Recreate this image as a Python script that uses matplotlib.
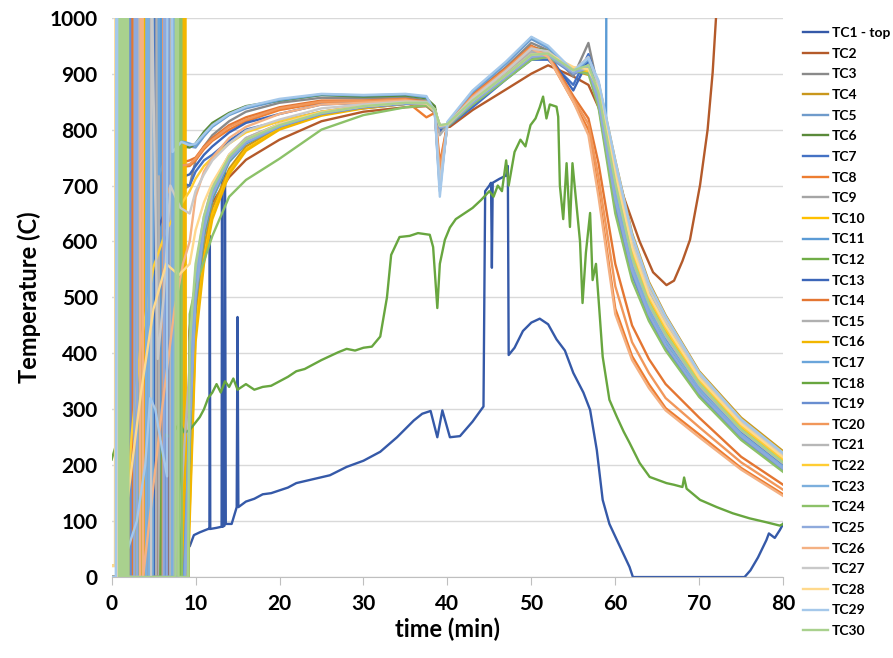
import matplotlib
matplotlib.use("Agg")
import matplotlib.pyplot as plt

plt.rcParams['font.family'] = ['Lato', 'DejaVu Sans']
plt.rcParams['font.weight'] = 'bold'

# common time grid for the main part of most traces (min)
t_main = [9.3, 10, 11, 12, 14, 16, 20, 25, 30, 35, 37.5, 38.5, 39.1, 40, 43, 47,
          50, 52, 55, 56.8, 58, 60, 62, 64, 66, 70, 75, 80]

# TC1 - top
tc1_t = [0, 1.7, 1.75, 2.0, 2.05, 5.4, 5.45, 5.7, 5.75, 6.2, 6.25, 6.5, 6.55, 8.9,
         9.1, 9.3, 9.8, 10.5, 11.5, 11.65, 11.7, 11.75, 12.5, 13.1, 13.15, 13.25,
         13.45, 13.5, 13.6, 14.3, 14.9, 15.0, 15.1, 16, 17, 18, 19, 20, 21, 22, 24,
         26, 28, 30, 32, 34, 36, 37, 38, 38.8, 39.4, 40.3, 41.5, 43, 44.3, 44.5,
         45.0, 45.2, 45.3, 45.4, 46.2, 47.0, 47.2, 47.3, 48, 49, 50, 51, 52, 53, 54,
         55, 56.2, 57, 57.8, 58.5, 59.3, 60.2, 61.7, 62.1, 75.4, 76.1, 77, 78, 78.3,
         79, 79.6, 80]
tc1_v = [0, 0, 1100, 1100, 0, 0, 1100, 1100, 0, 0, 1100, 1100, 0, 0,
         70, 55, 75, 80, 86, 86, 610, 86, 88, 90, 720, 90,
         92, 730, 95, 95, 125, 465, 125, 135, 140, 148, 150, 155, 160, 168, 175,
         182, 197, 208, 224, 250, 280, 292, 297, 250, 298, 250, 252, 278, 305, 690,
         700, 705, 553, 705, 712, 718, 735, 397, 410, 440, 455, 462, 452, 425, 405,
         365, 330, 299, 227, 138, 95, 66, 18, 0, 0, 12, 35, 66, 78,
         70, 84, 95]

# TC2
tc2_t = [0, 3.3, 3.35, 3.6, 3.65, 6.8, 6.85, 7.0, 7.05, 9.1, 9.2, 9.25, 10, 11, 12,
         14, 16, 20, 25, 30, 35, 37.5, 38.5, 39.2, 40.3, 43, 47, 50, 52, 55, 56.8,
         58, 59.5, 61, 62.9, 64.5, 66.1, 67, 68, 68.9, 70.1, 71, 71.6, 72, 72.3, 80]
tc2_v = [0, 0, 1100, 1100, 0, 0, 1100, 1100, 0, 0, 210, 440, 530, 610, 670,
         715, 746, 782, 815, 832, 840, 842, 830, 805, 805, 835, 872, 900, 915, 895, 880,
         840, 760, 680, 600, 545, 522, 530, 565, 603, 701, 800, 902, 1000, 1100, 1100]

# TC3
tc3_et = [0, 2.4, 2.45, 2.7, 2.75, 6.0, 6.05, 7.3, 7.35, 8.2]
tc3_ev = [0, 0, 1100, 1100, 0, 0, 1100, 1100, 640, 690]
tc3 = [700, 745, 770, 790, 815, 832, 848, 857, 856, 858, 852, 835, 700, 808, 862, 912,
       955, 942, 895, 955, 870, 700, 575, 495, 440, 350, 270, 210]

# TC4
tc4_et = [0, 1.3, 1.35, 1.5, 1.55, 4.6, 4.65, 5.0, 5.05, 8.4, 8.45, 8.7, 8.75, 9.1]
tc4_ev = [20, 20, 1100, 1100, 0, 0, 1100, 1100, 0, 0, 1100, 1100, 0, 0]
tc4 = [160, 470, 590, 660, 730, 770, 805, 828, 840, 846, 845, 832, 800, 805, 845, 892,
       928, 930, 905, 898, 885, 745, 615, 528, 468, 368, 285, 225]

# TC5
tc5_et = [0, 0.6, 0.65, 3.9, 3.95, 4.3, 4.35, 6.9, 6.95, 7.3, 8.1]
tc5_ev = [0, 0, 1100, 1100, 0, 0, 1100, 1100, 700, 760, 775]
tc5 = [770, 768, 788, 805, 826, 838, 852, 862, 860, 862, 858, 832, 705, 812, 866, 918,
       962, 946, 900, 920, 875, 720, 590, 505, 448, 355, 272, 212]

# TC6
tc6_et = [0, 2.0, 2.05, 4.0, 4.05, 4.2, 4.25, 7.5, 7.55, 7.8, 8.4]
tc6_ev = [0, 0, 1100, 1100, 660, 690, 1100, 1100, 760, 792, 770]
tc6 = [768, 775, 796, 812, 830, 842, 852, 862, 859, 861, 856, 842, 795, 806, 852, 905,
       948, 940, 905, 912, 850, 680, 555, 478, 420, 335, 255, 195]

# TC7
tc7_et = [0, 2.9, 2.95, 3.2, 3.25, 6.4, 6.45, 6.7, 6.75, 8.1]
tc7_ev = [0, 0, 1100, 1100, 0, 0, 1100, 1100, 660, 705]
tc7 = [700, 725, 745, 755, 780, 800, 815, 832, 838, 846, 848, 830, 795, 805, 840, 890,
       925, 925, 880, 935, 880, 690, 560, 480, 425, 338, 258, 198]

# TC8
tc8_et = [0, 3.6, 3.65, 3.9, 3.95, 5.6, 5.65, 5.9, 5.95, 8.1]
tc8_ev = [0, 0, 1100, 1100, 0, 0, 1100, 1100, 690, 733]
tc8 = [735, 745, 765, 780, 800, 815, 835, 848, 850, 852, 822, 830, 720, 810, 860, 905,
       945, 930, 850, 800, 690, 480, 395, 345, 302, 255, 195, 148]

# TC9
tc9_et = [0, 4.4, 4.45, 4.7, 4.75, 7.7, 7.75, 8.0, 8.05, 8.6]
tc9_ev = [0, 0, 1100, 1100, 0, 0, 1100, 1100, 0, 0]
tc9 = [300, 520, 630, 690, 750, 780, 808, 830, 842, 848, 848, 835, 805, 808, 850, 898,
       935, 935, 900, 910, 860, 700, 570, 490, 435, 345, 265, 207]

# TC10
tc10_et = [0, 2.6, 2.65, 2.9, 2.95, 8.2, 8.25, 8.5, 8.55, 8.9]
tc10_ev = [0, 0, 1100, 1100, 0, 0, 1100, 1100, 0, 0]
tc10 = [120, 440, 570, 650, 725, 765, 802, 826, 840, 847, 846, 835, 805, 808, 848, 895,
        930, 935, 910, 900, 880, 740, 605, 520, 462, 365, 282, 222]

# TC11 (runs off scale at 59 min)
tc11_t = [0, 5.8, 5.85, 6.1, 6.15, 8.6] + t_main[:21] + [58.9, 59.0, 80]
tc11_v = [0, 0, 1100, 1100, 0, 0,
          200, 490, 610, 675, 742, 775, 805, 828, 841, 847, 847, 834, 800, 807, 850,
          896, 932, 935, 905, 910, 850, 790, 1500, 1500]

# TC12
tc12_et = [0, 3.1, 3.15, 3.4, 3.45, 7.9, 7.95, 8.2, 8.25, 8.7]
tc12_ev = [0, 0, 1100, 1100, 0, 0, 1100, 1100, 0, 0]
tc12 = [250, 500, 615, 680, 745, 778, 807, 829, 841, 847, 847, 834, 802, 806, 848, 893,
        928, 932, 905, 905, 850, 670, 545, 470, 412, 328, 250, 192]

# TC13
tc13_et = [0, 1.1, 1.15, 1.4, 1.45, 5.1, 5.15, 5.4, 5.45, 7.6, 8.3]
tc13_ev = [0, 0, 1100, 1100, 0, 0, 1100, 1100, 620, 700, 715]
tc13 = [720, 735, 755, 770, 795, 812, 828, 845, 848, 852, 850, 832, 798, 806, 850, 900,
        940, 935, 870, 925, 885, 700, 568, 485, 428, 340, 260, 200]

# TC14
tc14_et = [0, 2.2, 2.25, 2.5, 2.55, 7.0, 7.05, 7.3, 7.35, 8.1]
tc14_ev = [0, 0, 1100, 1100, 0, 0, 1100, 1100, 700, 740]
tc14 = [745, 750, 770, 785, 808, 822, 840, 852, 852, 855, 850, 835, 740, 810, 862, 910,
        950, 935, 860, 820, 740, 560, 450, 390, 345, 285, 215, 165]

# TC15
tc15_et = [0, 5.3, 5.35, 5.6, 5.65, 7.4, 7.45, 7.7, 7.75, 8.5]
tc15_ev = [0, 0, 1100, 1100, 0, 0, 1100, 1100, 0, 200]
tc15 = [350, 540, 640, 700, 755, 785, 810, 832, 843, 849, 848, 836, 790, 809, 853, 900,
        940, 938, 902, 915, 865, 705, 578, 495, 440, 350, 268, 208]

# TC16
tc16_et = [0, 3.7, 3.75, 4.0, 4.05, 8.5, 8.55, 8.8, 8.85, 9.1]
tc16_ev = [0, 0, 1100, 1100, 0, 0, 1100, 1100, 0, 0]
tc16 = [100, 420, 560, 640, 720, 762, 800, 825, 838, 846, 846, 834, 803, 806, 846, 893,
        928, 932, 908, 902, 870, 710, 578, 498, 440, 350, 268, 208]

# TC17
tc17_et = [0, 0.7, 0.75, 1.0, 1.05, 4.9, 4.95, 5.6, 5.65, 7.0, 8.2]
tc17_ev = [0, 0, 1100, 1100, 0, 0, 1100, 1100, 720, 770, 780]
tc17 = [775, 772, 790, 806, 827, 840, 853, 863, 861, 863, 858, 830, 690, 812, 868, 920,
        965, 948, 902, 925, 878, 728, 598, 512, 455, 360, 276, 216]

# TC18
tc18_t = [0, 0.3, 0.5, 0.55, 0.9, 0.95, 3.0, 3.05, 3.3, 3.35, 5.8, 6.0, 6.5, 7, 7.5,
          8.1, 8.7, 9.3, 10.5, 11, 11.5, 12, 12.5, 13, 13.5, 14, 14.5, 15, 16, 17, 18,
          19, 20, 21, 22, 23, 24, 25, 26, 27, 28, 29, 30, 31, 32, 32.8, 33.3, 34.3,
          35.5, 36.5, 37.9, 38.3, 38.8, 39.1, 39.7, 40.3, 41, 42, 43, 44, 45, 45.5, 46,
          46.5, 47, 47.3, 48, 48.7, 49.3, 49.9, 50.5, 51, 51.4, 51.8, 52.2, 53.0, 53.2,
          53.4, 53.8, 54.2, 54.6, 54.9, 55.4, 55.8, 56.1, 56.5, 57.0, 57.3, 57.7, 58.1,
          58.5, 59.3, 60.2, 61, 61.7, 62.9, 64.1, 66.1, 67, 68, 68.2, 68.5, 70.1, 72.1,
          74, 76, 78, 79.6, 80]
tc18_v = [210, 225, 235, 1100, 1100, 0, 0, 1100, 1100, 0, 0, 245, 255, 250, 262,
          275, 258, 263, 286, 300, 320, 330, 345, 330, 350, 340, 355, 335, 345, 335, 340,
          342, 350, 358, 368, 372, 380, 388, 395, 402, 408, 405, 410, 412, 430, 500, 576, 608,
          610, 615, 612, 590, 481, 560, 603, 625, 640, 650, 660, 674, 690, 680, 700,
          690, 745, 700, 760, 782, 770, 808, 820, 840, 859, 820, 845, 841, 823,
          700, 640, 740, 626, 740, 662, 600, 490, 580, 651, 531, 560, 478,
          394, 317, 286, 260, 240, 204, 179, 168, 165, 161, 178, 158, 138, 125,
          114, 105, 98, 92, 95]

# TC19
tc19_et = [0, 1.9, 1.95, 2.2, 2.25, 6.6, 6.65, 6.9, 6.95, 8.6]
tc19_ev = [0, 0, 1100, 1100, 0, 0, 1100, 1100, 0, 0]
tc19 = [280, 510, 625, 685, 748, 778, 806, 828, 840, 846, 846, 834, 803, 806, 846, 892,
        926, 930, 900, 910, 845, 660, 540, 465, 410, 325, 248, 190]

# TC20
tc20_et = [0, 1.0, 1.05, 1.3, 1.35, 6.1, 6.15, 6.4, 6.45, 8.0]
tc20_ev = [0, 0, 1100, 1100, 0, 0, 1100, 1100, 680, 735]
tc20 = [738, 748, 768, 782, 805, 818, 838, 850, 851, 854, 848, 832, 730, 810, 860, 908,
        948, 932, 855, 810, 715, 520, 420, 365, 320, 268, 205, 156]

# TC21
tc21_et = [0, 3.0, 3.05, 3.3, 3.35, 7.0, 7.05, 7.3, 7.35, 8.3]
tc21_ev = [0, 0, 1100, 1100, 0, 0, 1100, 1100, 0, 150]
tc21 = [380, 550, 645, 700, 755, 785, 810, 832, 843, 849, 848, 836, 808, 809, 852, 898,
        936, 936, 902, 912, 862, 695, 565, 485, 430, 342, 262, 203]

# TC22
tc22_et = [0, 0.9, 0.95, 1.2, 1.25, 2.4, 3.5, 5.0, 6.5, 8.0]
tc22_ev = [20, 20, 1100, 1100, 0, 257, 420, 555, 620, 660]
tc22 = [690, 712, 735, 750, 775, 795, 815, 832, 842, 848, 847, 835, 806, 808, 850, 896,
        932, 935, 910, 905, 868, 712, 582, 500, 444, 352, 270, 210]

# TC23
tc23_et = [0, 4.1, 4.15, 4.4, 4.45, 7.2, 7.25, 7.5, 7.55, 8.7]
tc23_ev = [0, 0, 1100, 1100, 0, 0, 1100, 1100, 0, 0]
tc23 = [320, 520, 630, 688, 750, 780, 807, 830, 842, 848, 848, 835, 806, 808, 850, 896,
        932, 935, 903, 912, 855, 685, 555, 478, 422, 336, 256, 197]

# TC24
tc24_et = [0, 1.6, 1.65, 1.9, 1.95, 8.0, 8.05, 8.3, 8.35, 9.15]
tc24_ev = [0, 0, 1100, 1100, 0, 0, 1100, 1100, 0, 0]
tc24 = [470, 520, 565, 610, 680, 710, 748, 800, 826, 840, 843, 832, 805, 806, 845, 890,
        925, 930, 905, 900, 840, 650, 530, 458, 405, 322, 245, 188]

# TC25
tc25_et = [0, 2.7, 2.75, 3.0, 3.05, 6.2, 6.25, 6.5, 6.55, 8.8]
tc25_ev = [0, 0, 1100, 1100, 0, 0, 1100, 1100, 0, 0]
tc25 = [260, 500, 620, 682, 746, 777, 806, 829, 841, 847, 847, 835, 804, 807, 848, 894,
        930, 933, 902, 910, 850, 675, 548, 470, 415, 330, 252, 194]

# TC26
tc26_et = [0, 0.9, 0.95, 1.2, 1.25, 3.4, 3.45, 3.7, 3.75, 6.0, 7.5, 8.5]
tc26_ev = [0, 0, 1100, 1100, 0, 0, 1100, 1100, 0, 300, 480, 560]
tc26 = [600, 680, 725, 750, 785, 805, 828, 845, 848, 852, 847, 832, 700, 808, 858, 905,
        945, 930, 850, 790, 680, 470, 388, 338, 298, 250, 192, 145]

# TC27
tc27_et = [0, 1.5, 1.55, 1.8, 1.85, 4.7, 4.75, 5.5, 6.2, 7.0, 8.2]
tc27_ev = [0, 0, 1100, 1100, 0, 0, 1100, 390, 500, 700, 660]
tc27 = [650, 690, 720, 745, 775, 798, 818, 838, 845, 850, 850, 836, 705, 810, 856, 905,
        945, 940, 905, 930, 880, 735, 600, 515, 458, 362, 278, 218]

# TC28
tc28_et = [0, 0.4, 0.45, 0.7, 0.75, 1.0, 2.0, 3.5, 5.0, 6.5, 8.0]
tc28_ev = [20, 20, 1100, 1100, 0, 20, 150, 330, 480, 560, 540]
tc28 = [560, 620, 670, 705, 755, 782, 810, 831, 842, 848, 847, 835, 807, 809, 852, 898,
        934, 936, 912, 908, 872, 720, 590, 505, 450, 356, 274, 214]

# TC29
tc29_et = [0, 0.5, 0.55, 0.8, 0.85, 3.0, 4.0, 4.6, 5.2, 6.0, 6.6, 6.65, 7.2, 7.25, 8.3]
tc29_ev = [0, 0, 1100, 1100, 0, 100, 200, 320, 300, 230, 180, 1100, 1100, 760, 778]
tc29 = [772, 775, 792, 808, 828, 841, 855, 864, 862, 864, 860, 832, 680, 814, 870, 922,
        966, 950, 905, 928, 888, 745, 612, 525, 466, 366, 282, 222]

# TC30
tc30_et = [0.9, 0.95, 1.05, 1.1, 1.2, 1.25, 1.35, 1.4, 1.5, 1.55, 1.65, 1.7, 1.8, 1.85,
           1.95, 2.0, 7.6, 7.65, 7.9, 7.95, 9.1]
tc30_ev = [0, 1100, 1100, 0, 0, 1100, 1100, 0, 0, 1100, 1100, 0, 0, 1100,
           1100, 0, 0, 1100, 1100, 0, 0]
tc30 = [420, 560, 645, 695, 752, 782, 808, 830, 842, 848, 848, 836, 808, 810, 852, 898,
        934, 936, 906, 915, 866, 705, 572, 490, 435, 346, 264, 205]

colors = ['#3559A8', '#B45A2A', '#8A8A8A', '#C9971C', '#6F9BCB', '#5A8A3A',
          '#4472C4', '#ED7D31', '#A5A5A5', '#FFC000', '#5B9BD5', '#70AD47',
          '#3C66B8', '#E47632', '#B0B0B0', '#F2B600', '#6AA5DA', '#68A63F',
          '#698ED0', '#F1975A', '#B7B7B7', '#FFCD33', '#7CAFDD', '#8CC168',
          '#8FAADC', '#F4B183', '#C9C9C9', '#FFD98C', '#A5C8EA', '#A9D18E']

labels = ['TC1 - top'] + ['TC%d' % i for i in range(2, 31)]

series = [
    (tc1_t, tc1_v),
    (tc2_t, tc2_v),
    (tc3_et + t_main, tc3_ev + tc3),
    (tc4_et + t_main, tc4_ev + tc4),
    (tc5_et + t_main, tc5_ev + tc5),
    (tc6_et + t_main, tc6_ev + tc6),
    (tc7_et + t_main, tc7_ev + tc7),
    (tc8_et + t_main, tc8_ev + tc8),
    (tc9_et + t_main, tc9_ev + tc9),
    (tc10_et + t_main, tc10_ev + tc10),
    (tc11_t, tc11_v),
    (tc12_et + t_main, tc12_ev + tc12),
    (tc13_et + t_main, tc13_ev + tc13),
    (tc14_et + t_main, tc14_ev + tc14),
    (tc15_et + t_main, tc15_ev + tc15),
    (tc16_et + t_main, tc16_ev + tc16),
    (tc17_et + t_main, tc17_ev + tc17),
    (tc18_t, tc18_v),
    (tc19_et + t_main, tc19_ev + tc19),
    (tc20_et + t_main, tc20_ev + tc20),
    (tc21_et + t_main, tc21_ev + tc21),
    (tc22_et + t_main, tc22_ev + tc22),
    (tc23_et + t_main, tc23_ev + tc23),
    (tc24_et + t_main, tc24_ev + tc24),
    (tc25_et + t_main, tc25_ev + tc25),
    (tc26_et + t_main, tc26_ev + tc26),
    (tc27_et + t_main, tc27_ev + tc27),
    (tc28_et + t_main, tc28_ev + tc28),
    (tc29_et + t_main, tc29_ev + tc29),
    (tc30_et + t_main, tc30_ev + tc30),
]

fig = plt.figure(figsize=(8.93, 6.58), dpi=100)
ax = fig.add_axes([0.125, 0.123, 0.752, 0.85])

handles = []
for (t, v), c, lab in zip(series, colors, labels):
    h, = ax.plot(t, v, color=c, lw=1.7, label=lab, solid_joinstyle='round')
    handles.append(h)

ax.set_xlim(0, 80)
ax.set_ylim(0, 1000)
ax.set_xticks(range(0, 81, 10))
ax.set_yticks(range(0, 1001, 100))
ax.yaxis.grid(True, color='#D9D9D9', lw=1)
ax.set_axisbelow(True)
for s in ['top', 'right', 'left']:
    ax.spines[s].set_visible(False)
ax.spines['bottom'].set_color('#BFBFBF')
ax.tick_params(axis='x', direction='out', length=6, color='#BFBFBF', labelsize=15, pad=6)
ax.tick_params(axis='y', length=0, labelsize=15, pad=10)
for lbl in ax.get_xticklabels() + ax.get_yticklabels():
    lbl.set_fontweight('bold')

ax.set_xlabel('time (min)', fontsize=17, fontweight='bold', labelpad=3)
ax.set_ylabel('Temperature (C)', fontsize=17, fontweight='bold', labelpad=6)

fig.legend(handles=handles, loc='upper left', bbox_to_anchor=(0.8925, 0.967),
           frameon=False, labelspacing=0.62, handlelength=1.8,
           handletextpad=0.3, borderaxespad=0, prop={'weight': 'bold', 'size': 10})

fig.savefig('out.png', dpi=100)
